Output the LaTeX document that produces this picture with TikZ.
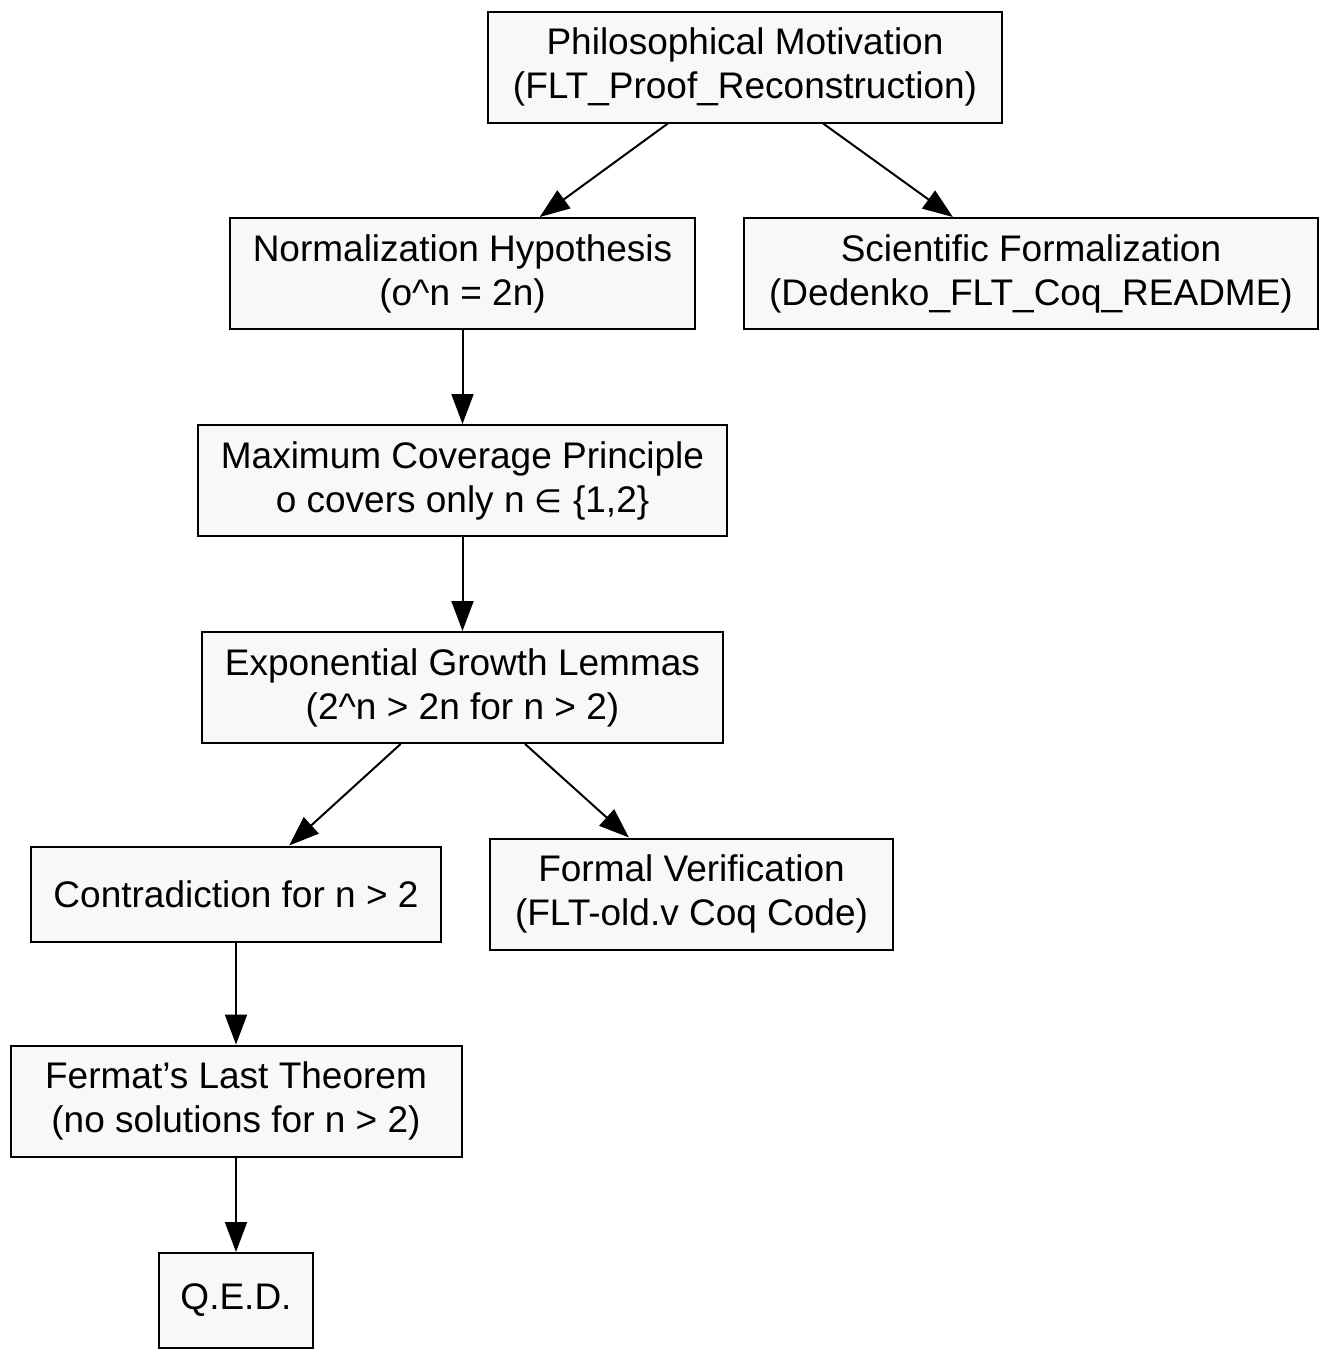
\documentclass[tikz,border=0pt]{standalone}
\usepackage{fontspec}
\setmainfont{Liberation Sans}
\newfontfamily\symfont{DejaVu Sans}
\usetikzlibrary{arrows.meta}
\definecolor{boxfill}{HTML}{F8F8F8}

\begin{document}
\begin{tikzpicture}[x=1pt, y=-1pt, >={Triangle[length=30pt, width=22pt]}, line width=2pt,
    every node/.style={font=\fontsize{37}{44}\selectfont, align=center},
    stepbox/.style={draw, fill=boxfill, inner sep=0pt, minimum height=111pt},
    flatbox/.style={stepbox, minimum height=95pt}]
                \useasboundingbox (0,0) rectangle (1328,1360);

                % Ebene 1
                \node[stepbox, minimum width=514pt] (motiv) at (745,67) {Philosophical Motivation\\(FLT\_Proof\_Reconstruction)};

                % Ebene 2
                \node[stepbox, minimum width=465pt] (normhyp) at (462.5,273.5) {Normalization Hypothesis\\(o\^{}n = 2n)};
                \node[stepbox, minimum width=574pt] (sciform) at (1031,273.5) {Scientific Formalization\\(Dedenko\_FLT\_Coq\_README)};

                % Kette nach unten
                \node[stepbox, minimum width=529pt] (maxcov) at (462.5,480.5) {Maximum Coverage Principle\\o covers only n {\symfont\fontsize{32}{44}\selectfont ∈} \{1,2\}};
                \node[stepbox, minimum width=521pt] (expgrowth) at (462.5,687.5) {Exponential Growth Lemmas\\(2\^{}n > 2n for n > 2)};
                \node[flatbox, minimum width=410pt] (contra) at (236,894) {Contradiction for n > 2};
                \node[stepbox, minimum width=403pt] (formver) at (691.5,894) {Formal Verification\\(FLT-old.v Coq Code)};
                \node[stepbox, minimum width=451pt] (fermat) at (236,1101) {Fermat’s Last Theorem\\(no solutions for n > 2)};
                \node[flatbox, minimum width=154pt] (qed) at (236,1300.5) {Q.E.D.};

                % Pfeile
                \draw[->] (motiv) -- (normhyp);
                \draw[->] (motiv) -- (sciform);
                \draw[->] (normhyp) -- (maxcov);
                \draw[->] (maxcov) -- (expgrowth);
                \draw[->] (expgrowth) -- (contra);
                \draw[->] (expgrowth) -- (formver);
                \draw[->] (contra) -- (fermat);
                \draw[->] (fermat) -- (qed);
            \end{tikzpicture}
\end{document}
